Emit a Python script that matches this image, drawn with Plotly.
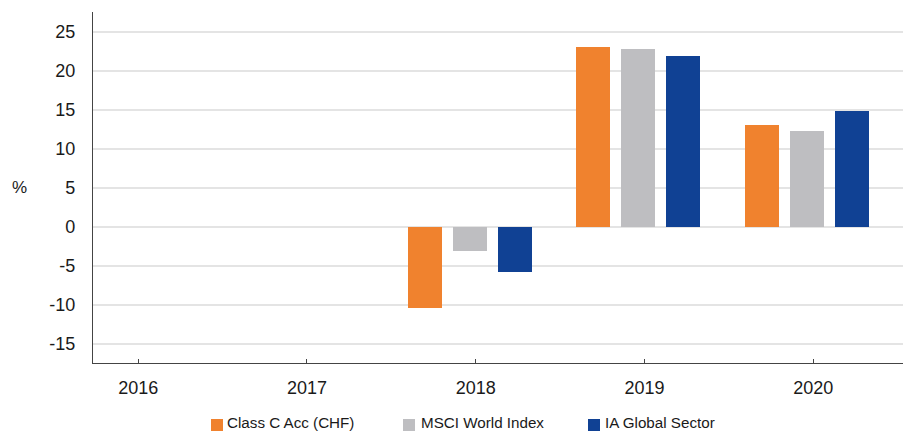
import plotly.graph_objects as go

years = [2016, 2017, 2018, 2019, 2020]
year_labels = ["2016", "2017", "2018", "2019", "2020"]
class_c = [None, None, -10.5, 23.0, 13.0]
msci = [None, None, -3.1, 22.7, 12.2]
ia_global = [None, None, -5.8, 21.9, 14.8]
series_names = ["Class C Acc (CHF)", "MSCI World Index", "IA Global Sector"]
y_ticks = [-15, -10, -5, 0, 5, 10, 15, 20, 25]
y_tick_labels = ["-15", "-10", "-5", "0", "5", "10", "15", "20", "25"]

colors = ["#F0822E", "#BEBEC1", "#104194"]
offsets = [-0.404, -0.137, 0.130]
bar_w = 0.2015

FONT = "Liberation Sans, Arial, sans-serif"
W, H = 903, 432
ML, MR, MT, MB = 93, 0, 12, 69
PW = W - ML - MR
PH = H - MT - MB

fig = go.Figure()
for name, vals, col, off in zip(series_names, [class_c, msci, ia_global], colors, offsets):
    fig.add_trace(go.Bar(x=years, y=vals, name=name, marker=dict(color=col, line=dict(width=0)),
                         width=bar_w, offset=off, showlegend=False))

# manual legend (square swatch + label)
leg_square_left = [211, 403, 588]
leg_text_left = [226, 420, 604]
def px_x(p):
    return (p - ML) / PW
def px_y(p):
    return (H - MB - p) / PH
for name, col, sq, tx in zip(series_names, colors, leg_square_left, leg_text_left):
    fig.add_shape(type="rect", xref="paper", yref="paper",
                  x0=px_x(sq), x1=px_x(sq + 12), y0=px_y(431), y1=px_y(419),
                  fillcolor=col, line=dict(width=0))
    fig.add_annotation(xref="paper", yref="paper", x=px_x(tx), y=px_y(422),
                       xanchor="left", yanchor="middle", text=name, showarrow=False,
                       borderpad=0,
                       font=dict(family=FONT, size=15.2, color="#1a1a1a"))

fig.add_annotation(xref="paper", yref="paper", x=px_x(19), y=px_y(187), xanchor="center",
                   yanchor="middle", text="%", showarrow=False,
                   font=dict(family=FONT, size=17, color="#1a1a1a"))

fig.update_layout(
    width=W, height=H,
    margin=dict(l=ML, r=MR, t=MT, b=MB),
    paper_bgcolor="white", plot_bgcolor="white",
    font=dict(family=FONT, size=18, color="#1a1a1a"),
    bargap=0,
)
fig.update_xaxes(
    type="linear", range=[2015.732, 2020.532],
    tickvals=years, ticktext=year_labels,
    ticks="inside", ticklen=4, tickwidth=1, tickcolor="#444",
    showline=True, linecolor="#444", linewidth=1.3,
    showgrid=False, zeroline=False, ticklabelstandoff=8,
    tickfont=dict(size=18),
)
fig.update_yaxes(
    range=[-17.5, 27.5], tickvals=y_ticks, ticktext=y_tick_labels,
    showgrid=True, gridcolor="#E4E4E4", gridwidth=1.5,
    showline=True, linecolor="#444", linewidth=1.3,
    zeroline=False, ticks="", ticklabelstandoff=13,
    tickfont=dict(size=18),
)

fig.write_html("out.html", config={"displayModeBar": False},
               post_script="document.body.style.margin='0px';document.body.style.overflow='hidden';")
